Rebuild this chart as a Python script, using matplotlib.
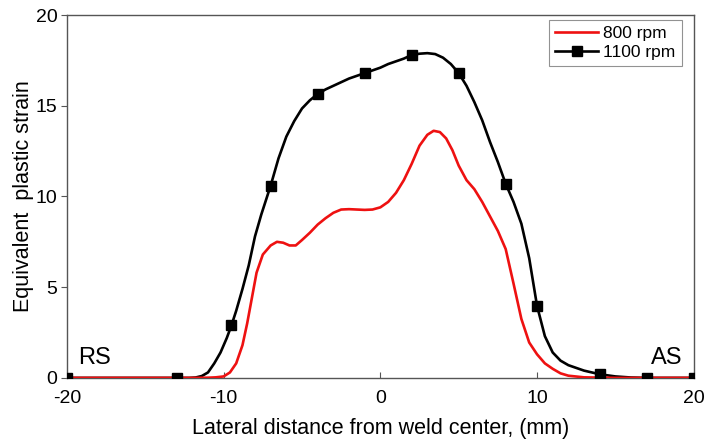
import matplotlib.pyplot as plt
from matplotlib.lines import Line2D

plt.rcParams['font.family'] = ['Liberation Sans', 'DejaVu Sans']
plt.rcParams['axes.unicode_minus'] = False

# 800 rpm profile (no markers)
x_800 = [-20, -15, -12, -11, -10.5, -10, -9.6, -9.2, -8.8, -8.5, -8.2, -7.9, -7.5, -7.0,
         -6.6, -6.2, -5.8, -5.4, -5.0, -4.5, -4.0, -3.5, -3.0, -2.5, -2.0, -1.5, -1.0,
         -0.5, 0, 0.5, 1.0, 1.5, 2.0, 2.5, 3.0, 3.4, 3.8, 4.2, 4.6, 5.0, 5.5, 6.0, 6.5,
         7.0, 7.5, 8.0, 8.5, 9.0, 9.5, 10.0, 10.5, 11.0, 11.5, 12, 13, 15, 20]
y_800 = [0, 0, 0, 0.01, 0.03, 0.08, 0.3, 0.8, 1.8, 3.0, 4.4, 5.8, 6.8, 7.3,
         7.5, 7.45, 7.3, 7.3, 7.6, 8.0, 8.45, 8.8, 9.1, 9.28, 9.3, 9.28, 9.26,
         9.28, 9.4, 9.7, 10.2, 10.9, 11.8, 12.8, 13.4, 13.62, 13.55, 13.2, 12.55, 11.7, 10.9, 10.4, 9.7,
         8.9, 8.1, 7.1, 5.2, 3.25, 1.95, 1.3, 0.8, 0.5, 0.25, 0.12, 0.03, 0, 0]

# 1100 rpm profile
x_1100 = [-20, -15, -13, -12.2, -11.8, -11.4, -11.0, -10.6, -10.2, -9.8, -9.5, -9.2, -8.8,
          -8.4, -8.0, -7.6, -7.0, -6.5, -6.0, -5.5, -5.0, -4.5, -4.0, -3.5, -3.0, -2.5,
          -2.0, -1.5, -1.0, -0.5, 0, 0.5, 1.0, 1.5, 2.0, 2.5, 3.0, 3.5, 4.0, 4.5, 5.0,
          5.5, 6.0, 6.5, 7.0, 7.5, 8.0, 8.5, 9.0, 9.5, 10.0, 10.5, 11.0, 11.5, 12, 13,
          14, 15, 16, 17, 20]
y_1100 = [0, 0, 0, 0, 0.02, 0.1, 0.3, 0.8, 1.4, 2.2, 2.9, 3.7, 4.9,
          6.2, 7.8, 9.0, 10.6, 12.1, 13.3, 14.15, 14.85, 15.3, 15.65, 15.9, 16.1, 16.3,
          16.5, 16.65, 16.8, 16.95, 17.1, 17.3, 17.45, 17.6, 17.8, 17.87, 17.9, 17.85, 17.65, 17.3, 16.8,
          16.1, 15.2, 14.2, 13.0, 11.9, 10.7, 9.7, 8.5, 6.6, 3.97, 2.3, 1.4, 0.95, 0.7, 0.4,
          0.2, 0.08, 0.02, 0, 0]

# sampled points shown with square markers
xm_1100 = [-20, -13, -9.5, -7, -4, -1, 2, 5, 8, 10, 14, 17, 20]
ym_1100 = [0, 0, 2.9, 10.6, 15.65, 16.8, 17.8, 16.8, 10.7, 3.97, 0.2, 0, 0]

fig = plt.figure(figsize=(7.05, 4.43), dpi=100)
ax = fig.add_axes([0.095, 0.147, 0.889, 0.819])

ax.plot(x_1100, y_1100, '-', color='black', linewidth=1.9, zorder=2)
ax.plot(x_800, y_800, '-', color='#ee1111', linewidth=1.9, zorder=3)
ax.plot(xm_1100, ym_1100, 's', color='black', markersize=6.5, linestyle='None', zorder=4)

ax.set_xlim(-20, 20)
ax.set_ylim(0, 20)
ax.set_xticks([-20, -10, 0, 10, 20])
ax.set_yticks([0, 5, 10, 15, 20])
ax.tick_params(axis='x', direction='in', length=4, labelsize=14, pad=9, color='#555555')
ax.tick_params(axis='y', direction='out', length=4, labelsize=14, pad=3, color='#555555')
for s in ax.spines.values():
    s.set_color('#555555')
    s.set_linewidth(1.0)

ax.set_xlabel('Lateral distance from weld center, (mm)', fontsize=15.5, labelpad=8)
ax.set_ylabel('Equivalent  plastic strain', fontsize=15.5, labelpad=1)

ax.text(-19.3, 0.75, 'RS', fontsize=17, ha='left', va='baseline')
ax.text(19.25, 0.75, 'AS', fontsize=17, ha='right', va='baseline')

handles = [Line2D([], [], color='#ee1111', linewidth=1.9),
           Line2D([], [], color='black', linewidth=1.9, marker='s', markersize=6.5)]
leg = ax.legend(handles, ['800 rpm', '1100 rpm'], loc='upper right', fontsize=12.5,
                frameon=True, fancybox=False, edgecolor='#777777', handlelength=2.5,
                borderpad=0.35, labelspacing=0.2, handletextpad=0.3, borderaxespad=0,
                bbox_to_anchor=(0.981, 0.986))
leg.get_frame().set_linewidth(0.8)

fig.savefig('out.png', dpi=100)
